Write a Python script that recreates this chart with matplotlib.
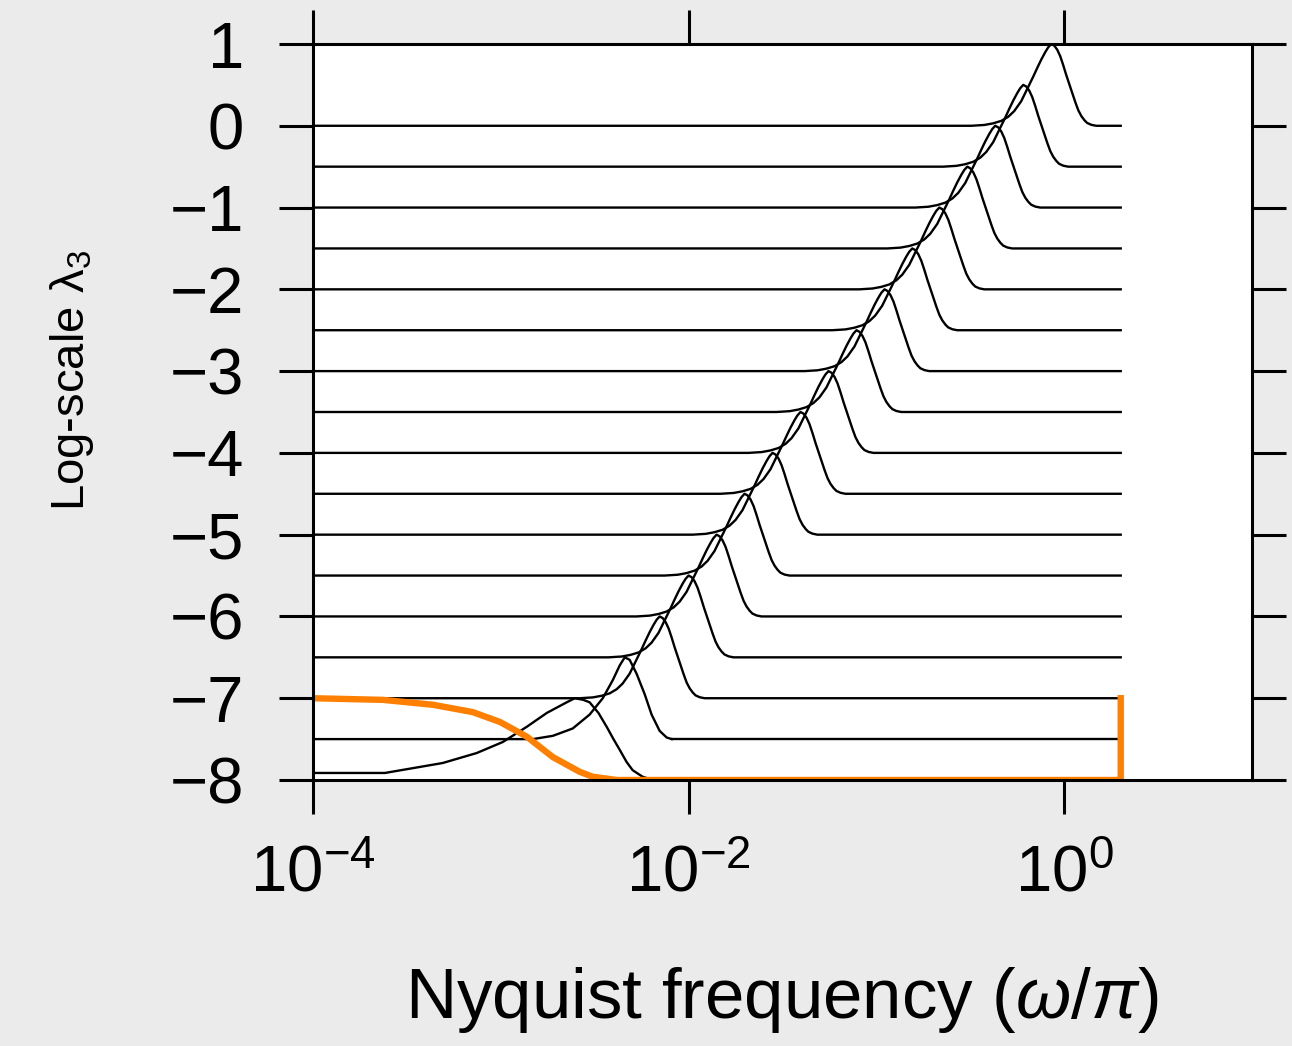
import matplotlib
matplotlib.use("Agg")
import matplotlib.pyplot as plt
import numpy as np
from matplotlib.ticker import NullLocator

plt.rcParams['font.family'] = ['Liberation Sans', 'DejaVu Sans']
plt.rcParams['mathtext.fontset'] = 'custom'
plt.rcParams['mathtext.rm'] = 'Liberation Sans'
plt.rcParams['mathtext.it'] = 'Liberation Sans:italic'

# baselines (log-scale lambda_3) of the stacked curves
baselines = [-8.0, -7.5, -7.0, -6.5, -6.0, -5.5, -5.0, -4.5, -4.0,
             -3.5, -3.0, -2.5, -2.0, -1.5, -1.0, -0.5, 0.0]

# log10 of peak frequency for curves 2..16
peak_log = [-2.154, -2.000, -1.851, -1.702, -1.553, -1.404, -1.255,
            -1.106, -0.957, -0.809, -0.665, -0.516, -0.367, -0.218, -0.069]

# common bump shape (log10 offset from peak, height)
prof_dlog = [-0.426, -0.356, -0.309, -0.266, -0.229, -0.197, -0.160, -0.128,
             -0.096, -0.074, -0.053, -0.032, -0.016, 0.0, 0.016, 0.032,
             0.048, 0.064, 0.080, 0.096, 0.112, 0.128, 0.144, 0.160, 0.176,
             0.191, 0.213, 0.239]
prof_h = [0.0, 0.01, 0.03, 0.06, 0.11, 0.18, 0.30, 0.45, 0.60, 0.71, 0.81,
          0.90, 0.96, 1.0, 0.98, 0.93, 0.85, 0.74, 0.62, 0.51, 0.40, 0.29,
          0.19, 0.12, 0.07, 0.035, 0.012, 0.0]

# lowest two curves read separately (broader)
c0_log = [-4.0, -3.617, -3.309, -3.128, -2.989, -2.862, -2.755, -2.690,
          -2.649, -2.606, -2.560, -2.527, -2.480, -2.436, -2.400, -2.367,
          -2.330, -2.298, -2.245, -2.191]
c0_h = [0.086, 0.086, 0.208, 0.33, 0.465, 0.65, 0.82, 0.90, 0.95, 1.0,
        0.98, 0.95, 0.82, 0.65, 0.50, 0.37, 0.22, 0.12, 0.04, 0.0]

c1_log = [-4.0, -2.830, -2.723, -2.617, -2.527, -2.457, -2.404, -2.367,
          -2.340, -2.314, -2.277, -2.234, -2.197, -2.154, -2.117, -2.090]
c1_h = [0.0, 0.0, 0.04, 0.13, 0.30, 0.50, 0.72, 0.90, 1.0, 0.97, 0.80,
        0.55, 0.30, 0.10, 0.02, 0.0]

# orange low-pass curve on baseline -8
lp_log = [-4.0, -3.628, -3.362, -3.149, -3.005, -2.862, -2.723, -2.580,
          -2.511, -2.383, 0.301, 0.301]
lp_h = [1.0, 0.98, 0.92, 0.83, 0.71, 0.53, 0.28, 0.10, 0.04, 0.0, 0.0, 1.0]

x_start = 1e-4
x_end = 2.0

fig = plt.figure(figsize=(12.92, 10.46), dpi=100, facecolor='#ebebeb')
ax = fig.add_axes([313 / 1292, 1 - 780 / 1046, (1252 - 313) / 1292, (780 - 44) / 1046])

lw_black = 1.7
ax.plot(10 ** np.array(c0_log), baselines[0] + np.array(c0_h), color='black', lw=lw_black)
ax.plot(10 ** np.array(c1_log), baselines[1] + np.array(c1_h), color='black', lw=lw_black)
for b, pk in zip(baselines[2:], peak_log):
    xs = np.concatenate([[x_start], 10 ** (pk + np.array(prof_dlog)), [x_end]])
    ys = b + np.concatenate([[0.0], prof_h, [0.0]])
    ax.plot(xs, ys, color='black', lw=lw_black)
# extend lowest curves to the right end
ax.plot([10 ** c0_log[-1], x_end], [baselines[0]] * 2, color='black', lw=lw_black)
ax.plot([10 ** c1_log[-1], x_end], [baselines[1]] * 2, color='black', lw=lw_black)

ax.plot(10 ** np.array(lp_log), baselines[0] + np.array(lp_h), color='#ff8000', lw=4.6, zorder=2.4)

ax.set_xscale('log')
ax.set_xlim(1e-4, 10)
ax.set_ylim(-8, 1)
ax.set_xticks([1e-4, 1e-2, 1])
ax.xaxis.set_minor_locator(NullLocator())
ax.set_yticks(range(-8, 2))

for s in ax.spines.values():
    s.set_linewidth(2.2)
ax.tick_params(which='both', direction='out', length=24.5, width=2.2,
               top=True, right=True, labelsize=47)
ax.tick_params(axis='y', pad=25)
ax.tick_params(axis='x', pad=22)

fig.text(782 / 1292, 1 - 1000 / 1046, r'Nyquist frequency ($\omega/\pi$)',
         fontsize=51, ha='center', va='center')
fig.text(72 / 1292, 1 - 381 / 1046, r'Log-scale λ$_3$', fontsize=34,
         rotation=90, ha='center', va='center')

fig.savefig('out.png', dpi=100, facecolor=fig.get_facecolor())
